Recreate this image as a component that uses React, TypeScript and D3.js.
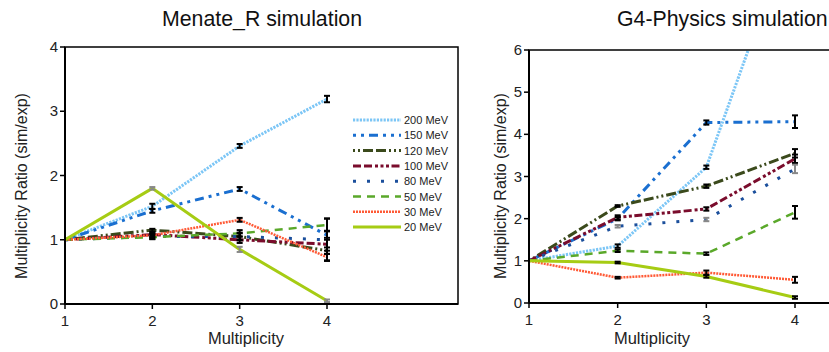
import React from "react";
import * as d3 from "d3";

const multiplicities = [1, 2, 3, 4];
const seriesNames = ["200 MeV", "150 MeV", "120 MeV", "100 MeV", "80 MeV", "50 MeV", "30 MeV", "20 MeV"];
const seriesColors = ["#7cc6f6", "#1a6fd0", "#3b4a1c", "#7a0c2c", "#1b4f9c", "#5aa82a", "#ff5a36", "#a6cc14"];
const seriesDash = ["2.2 1.2", "3 5 3 5 9 5", "2 3 2 3 10 3 10 3", "8 3 8 3 3 2.5 3 2.5 3 2.5", "3 11", "8 6", "2 1", ""];
const seriesWidth = [3, 3, 3, 3, 3, 2.5, 2.5, 3];

// Menate_R simulation values
const menateValues = [
  [1, 1.52, 2.46, 3.19],
  [1, 1.45, 1.79, 1.07],
  [1, 1.15, 1.05, 0.83],
  [1, 1.08, 1.0, 0.93],
  [1, 1.05, 1.05, 1.0],
  [1, 1.04, 1.1, 1.23],
  [1, 1.07, 1.31, 0.73],
  [1, 1.8, 0.85, 0.05],
];
const menateErrors = [
  [0, 0.04, 0.03, 0.05],
  [0, 0.03, 0.03, 0.07],
  [0, 0.02, 0.05, 0.05],
  [0, 0.04, 0.05, 0.1],
  [0, 0.04, 0.06, 0.33],
  [0, 0.03, 0.05, 0.1],
  [0, 0.03, 0.03, 0.05],
  [0, 0.02, 0.04, 0.02],
];
const menateErrGrey = [false, false, false, false, false, false, false, true];

// G4-Physics simulation values
const g4Values = [
  [1, 1.35, 3.22, 9.1],
  [1, 2.0, 4.28, 4.3],
  [1, 2.3, 2.77, 3.55],
  [1, 2.03, 2.23, 3.42],
  [1, 1.82, 1.98, 3.18],
  [1, 1.24, 1.17, 2.15],
  [1, 0.6, 0.72, 0.55],
  [1, 0.96, 0.63, 0.13],
];
const g4Errors = [
  [0, 0.04, 0.04, 0],
  [0, 0.04, 0.05, 0.15],
  [0, 0.02, 0.04, 0.1],
  [0, 0.05, 0.04, 0.1],
  [0, 0.03, 0.04, 0.1],
  [0, 0.03, 0.03, 0.15],
  [0, 0.02, 0.05, 0.07],
  [0, 0.02, 0.03, 0.03],
];
const g4ErrGrey = [false, false, false, false, true, false, false, false];

const xTicks = [1, 2, 3, 4];
const yTicksLeft = [0, 1, 2, 3, 4];
const yTicksRight = [0, 1, 2, 3, 4, 5, 6];

const FONT = "Liberation Sans, Arial, sans-serif";

type PanelProps = {
  id: string;
  title: string;
  titleX: number;
  xLabelX: number;
  yLabelX: number;
  x0: number;
  x1: number;
  yTop: number;
  yBottom: number;
  yMax: number;
  yTicks: number[];
  values: number[][];
  errors: number[][];
  errGrey: boolean[];
  legend: boolean;
};

function Panel(p: PanelProps) {
  const x = d3.scaleLinear().domain([1, 5.5]).range([p.x0, p.x1]);
  const y = d3.scaleLinear().domain([0, p.yMax]).range([p.yBottom, p.yTop]);
  const line = d3
    .line<number>()
    .x((_, i) => x(multiplicities[i]))
    .y((v) => y(v));
  return (
    <g fontFamily={FONT}>
      <defs>
        <clipPath id={"clip-" + p.id}>
          <rect x={p.x0} y={p.yTop} width={p.x1 - p.x0} height={p.yBottom - p.yTop} />
        </clipPath>
      </defs>
      <text x={p.titleX} y={26} fontSize={21.3} fill="#111">
        {p.title}
      </text>
      <g clipPath={`url(#clip-${p.id})`}>
        {p.values.map((vals, si) => (
          <path
            key={si}
            d={line(vals) || ""}
            fill="none"
            stroke={seriesColors[si]}
            strokeWidth={seriesWidth[si]}
            strokeDasharray={seriesDash[si] || undefined}
          />
        ))}
        {p.values.map((vals, si) =>
          vals.map((v, i) => {
            const e = p.errors[si][i];
            if (!e) return null;
            const cx = x(multiplicities[i]);
            const c = p.errGrey[si] ? "#888" : "#000";
            return (
              <g key={si + "-" + i} stroke={c} strokeWidth={2}>
                <line x1={cx} x2={cx} y1={y(v - e)} y2={y(v + e)} />
                <line x1={cx - 3} x2={cx + 3} y1={y(v - e)} y2={y(v - e)} />
                <line x1={cx - 3} x2={cx + 3} y1={y(v + e)} y2={y(v + e)} />
              </g>
            );
          })
        )}
      </g>
      <rect x={p.x0} y={p.yTop} width={p.x1 - p.x0} height={p.yBottom - p.yTop} fill="none" stroke="#000" strokeWidth={1.5} />
      <line x1={p.x0} x2={p.x0} y1={p.yTop} y2={p.yBottom} stroke="#000" strokeWidth={2} />
      <line x1={p.x0} x2={p.x1} y1={p.yBottom} y2={p.yBottom} stroke="#000" strokeWidth={2} />
      {xTicks.map((t) => (
        <g key={"xt" + t}>
          <line x1={x(t)} x2={x(t)} y1={p.yBottom} y2={p.yBottom + 5} stroke="#000" strokeWidth={1.5} />
          <text x={x(t)} y={p.yBottom + 22} fontSize={15} textAnchor="middle" fill="#222">
            {t}
          </text>
        </g>
      ))}
      {p.yTicks.map((t) => (
        <g key={"yt" + t}>
          <line x1={p.x0 - 5} x2={p.x0} y1={y(t)} y2={y(t)} stroke="#000" strokeWidth={1.5} />
          <text x={p.x0 - 7} y={y(t) + 5} fontSize={15} textAnchor="end" fill="#222">
            {t}
          </text>
        </g>
      ))}
      <text x={p.xLabelX} y={344} fontSize={16.5} textAnchor="middle" fill="#222">
        Multiplicity
      </text>
      <text
        transform={`translate(${p.yLabelX},186) rotate(-90)`}
        fontSize={16}
        textAnchor="middle"
        fill="#222"
      >
        Multiplicity Ratio (sim/exp)
      </text>
      {p.legend &&
        seriesNames.map((n, i) => {
          const ly = 120 + i * 15.3;
          return (
            <g key={"lg" + i}>
              <line
                x1={353}
                x2={401}
                y1={ly}
                y2={ly}
                stroke={seriesColors[i]}
                strokeWidth={seriesWidth[i]}
                strokeDasharray={seriesDash[i] || undefined}
              />
              <text x={404} y={ly + 4} fontSize={11} fill="#222">
                {n}
              </text>
            </g>
          );
        })}
    </g>
  );
}

export default function App() {
  return (
    <svg
      width={829}
      height={352}
      style={{ position: "absolute", left: 0, top: 0, background: "#fff" }}
    >
      <rect width={829} height={352} fill="#fff" />
      <Panel
        id="l"
        title="Menate_R simulation"
        titleX={162}
        xLabelX={246}
        yLabelX={27}
        x0={65}
        x1={458}
        yTop={47}
        yBottom={304}
        yMax={4}
        yTicks={yTicksLeft}
        values={menateValues}
        errors={menateErrors}
        errGrey={menateErrGrey}
        legend={true}
      />
      <Panel
        id="r"
        title="G4-Physics simulation"
        titleX={617}
        xLabelX={652}
        yLabelX={506}
        x0={529}
        x1={928}
        yTop={50}
        yBottom={303}
        yMax={6}
        yTicks={yTicksRight}
        values={g4Values}
        errors={g4Errors}
        errGrey={g4ErrGrey}
        legend={false}
      />
    </svg>
  );
}
